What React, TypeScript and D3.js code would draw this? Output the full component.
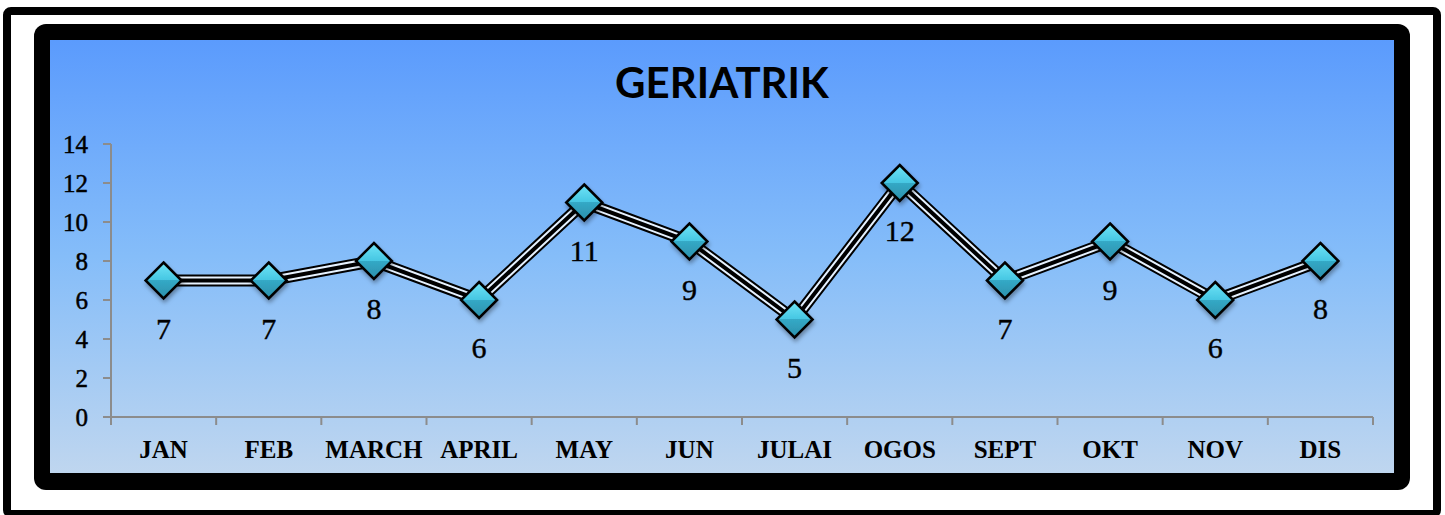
import React from "react";
import * as d3 from "d3";

const months = ["JAN", "FEB", "MARCH", "APRIL", "MAY", "JUN", "JULAI", "OGOS", "SEPT", "OKT", "NOV", "DIS"];
const patients = [7, 7, 8, 6, 11, 9, 5, 12, 7, 9, 6, 8];
const yTicks = [0, 2, 4, 6, 8, 10, 12, 14];
const chartTitle = "GERIATRIK";

export default function App() {
	const width = 1445;
	const height = 515;
	const plot = { left: 111, right: 1373, top: 144, bottom: 417 };

	const x = d3.scaleBand().domain(months).range([plot.left, plot.right]).padding(0);
	const y = d3.scaleLinear().domain([0, 14]).range([plot.bottom, plot.top]);

	const line = d3
		.line<number>()
		.x((d, i) => (x(months[i]) ?? 0) + x.bandwidth() / 2)
		.y((d) => y(d));
	const path = line(patients) ?? "";

	const boundaries = months.map((m) => x(m) ?? 0).concat([plot.right]);
	const serif = "'Liberation Serif', 'Times New Roman', serif";
	const r = 18;

	return (
		<svg width={width} height={height} style={{ position: "absolute", left: 0, top: 0 }}>
			<defs>
				<linearGradient id="bg" x1="0" y1="0" x2="0" y2="1">
					<stop offset="0" stopColor="#5b9bfd" />
					<stop offset="0.5" stopColor="#85bdf9" />
					<stop offset="1" stopColor="#bfd6ef" />
				</linearGradient>
				<linearGradient id="gem" x1="0" y1="0" x2="0" y2="1">
					<stop offset="0" stopColor="#6fe4f7" />
					<stop offset="0.5" stopColor="#45c6e2" />
					<stop offset="0.5" stopColor="#34a9c6" />
					<stop offset="1" stopColor="#2b8fab" />
				</linearGradient>
				<filter id="shadow" x="-50%" y="-50%" width="200%" height="200%">
					<feDropShadow dx="1" dy="3" stdDeviation="2" floodColor="#000" floodOpacity="0.35" />
				</filter>
			</defs>

			<rect x={0} y={0} width={width} height={height} fill="#fff" />
			<rect x={7} y={11} width={1430} height={503} rx={4} fill="none" stroke="#000" strokeWidth={8} />
			<rect x={34} y={24} width={1376} height={466} rx={12} fill="#000" />
			<rect x={50} y={40} width={1344} height={433} fill="url(#bg)" />

			<text
				x={722}
				y={98}
				textAnchor="middle"
				fontFamily="Lato, 'Open Sans', sans-serif"
				fontWeight="bold"
				fontSize={42}
				fill="#000"
			>
				{chartTitle}
			</text>

			{/* y axis */}
			<line x1={plot.left} x2={plot.left} y1={plot.top} y2={plot.bottom} stroke="#8c8c8c" strokeWidth={2} />
			{yTicks.map((t) => (
				<g key={t}>
					<line x1={plot.left - 8} x2={plot.left} y1={y(t)} y2={y(t)} stroke="#8c8c8c" strokeWidth={2} />
					<text
						x={88}
						y={y(t)}
						dy="0.35em"
						textAnchor="end"
						fontFamily={serif}
						fontSize={25}
						fill="#000"
						stroke="#000"
						strokeWidth={0.5}
					>
						{t}
					</text>
				</g>
			))}

			{/* x axis */}
			<line x1={plot.left} x2={plot.right} y1={plot.bottom} y2={plot.bottom} stroke="#8c8c8c" strokeWidth={2} />
			{boundaries.map((bx, i) => (
				<line key={i} x1={bx} x2={bx} y1={plot.bottom} y2={plot.bottom + 8} stroke="#8c8c8c" strokeWidth={2} />
			))}
			{months.map((m) => (
				<text
					key={m}
					x={(x(m) ?? 0) + x.bandwidth() / 2}
					y={458}
					textAnchor="middle"
					fontFamily={serif}
					fontWeight="bold"
					fontSize={25}
					fill="#000"
				>
					{m}
				</text>
			))}

			{/* compound line */}
			<path d={path} fill="none" stroke="#000" strokeWidth={12} strokeLinejoin="miter" />
			<path d={path} fill="none" stroke="#e6f2ff" strokeWidth={8} strokeLinejoin="miter" />
			<path d={path} fill="none" stroke="#000" strokeWidth={4} strokeLinejoin="miter" />

			{patients.map((v, i) => {
				const cx = (x(months[i]) ?? 0) + x.bandwidth() / 2;
				const cy = y(v);
				return (
					<g key={i}>
						<path
							d={`M${cx},${cy - r}L${cx + r},${cy}L${cx},${cy + r}L${cx - r},${cy}Z`}
							fill="url(#gem)"
							stroke="#000"
							strokeWidth={2.5}
							filter="url(#shadow)"
						/>
						<text
							x={cx}
							y={cy + 58}
							textAnchor="middle"
							fontFamily={serif}
							fontSize={30}
							fill="#000"
							stroke="#000"
							strokeWidth={0.4}
						>
							{v}
						</text>
					</g>
				);
			})}
		</svg>
	);
}
